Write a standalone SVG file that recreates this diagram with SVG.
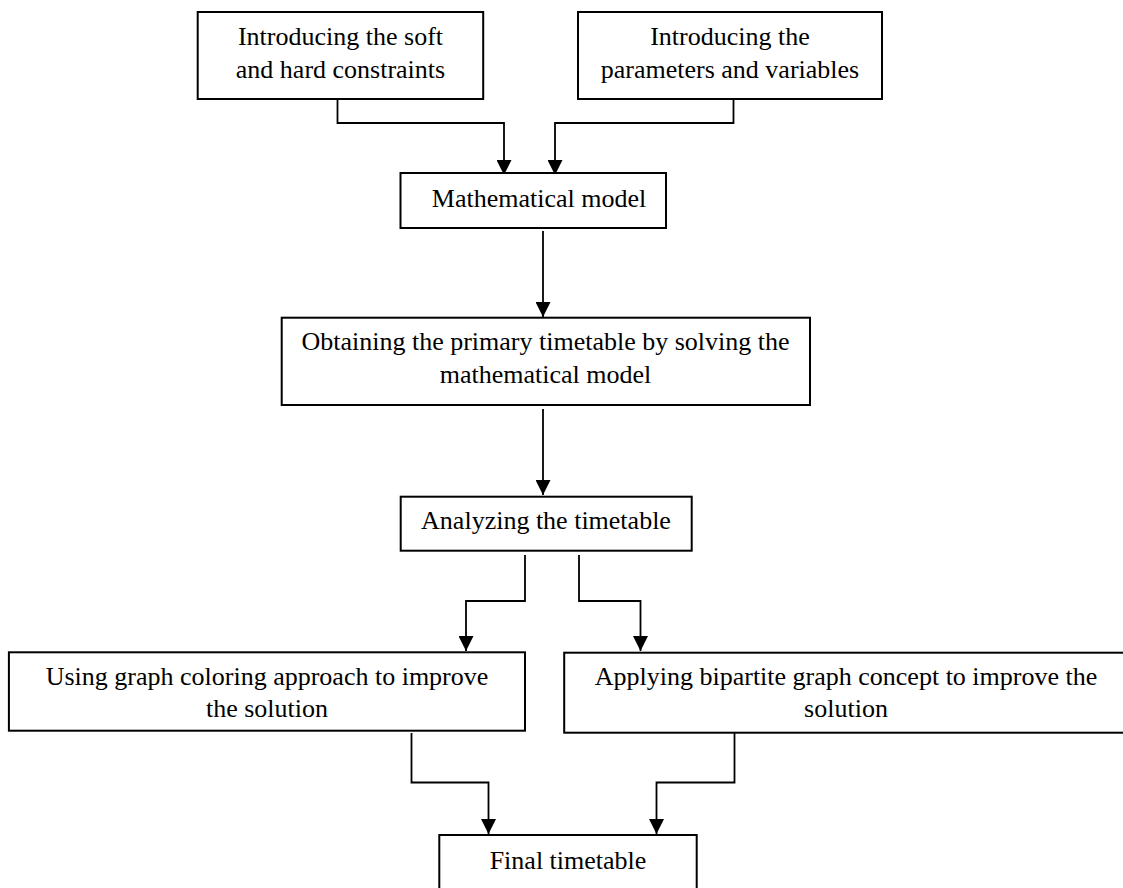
<svg xmlns="http://www.w3.org/2000/svg" width="1123" height="888" viewBox="0 0 1123 888">
<style>
.box{fill:#fff;stroke:#000;stroke-width:2}
.t{font-family:"Liberation Serif","Times New Roman",serif;font-size:26px;fill:#000;text-anchor:middle}
.c{fill:none;stroke:#000;stroke-width:1.8}
</style>
<defs>
<marker id="ah" markerWidth="15" markerHeight="15" refX="15" refY="7.5" orient="auto" markerUnits="userSpaceOnUse">
<path d="M0,0 L15,7.5 L0,15 Z" fill="#000"/>
</marker>
</defs>
<rect width="1123" height="888" fill="#fff"/>
<g id="connectors">
<polyline class="c" points="337.5,99 337.5,123 504,123 504,175" marker-end="url(#ah)"/>
<polyline class="c" points="733.5,99 733.5,123 555,123 555,175" marker-end="url(#ah)"/>
<polyline class="c" points="543,231 543,317" marker-end="url(#ah)"/>
<polyline class="c" points="543,409 543,495" marker-end="url(#ah)"/>
<polyline class="c" points="525,555 525,601 466,601 466,651" marker-end="url(#ah)"/>
<polyline class="c" points="579,555 579,601 640.5,601 640.5,651" marker-end="url(#ah)"/>
<polyline class="c" points="411.5,733 411.5,782.5 488.5,782.5 488.5,834" marker-end="url(#ah)"/>
<polyline class="c" points="734.5,733 734.5,782.5 656.5,782.5 656.5,834" marker-end="url(#ah)"/>
</g>
<g id="n1">
<rect class="box" x="197.7" y="12" width="285.5" height="87"/>
<text class="t" x="340.5" y="45">Introducing the soft</text>
<text class="t" x="340.5" y="78">and hard constraints</text>
</g>
<g id="n2">
<rect class="box" x="578" y="12" width="304" height="87"/>
<text class="t" x="730" y="45">Introducing the</text>
<text class="t" x="730" y="78">parameters and variables</text>
</g>
<g id="n3">
<rect class="box" x="400.5" y="173" width="265.5" height="55"/>
<text class="t" x="539" y="207">Mathematical model</text>
</g>
<g id="n4">
<rect class="box" x="281.7" y="317.7" width="528.3" height="87.3"/>
<text class="t" x="545.5" y="350">Obtaining the primary timetable by solving the</text>
<text class="t" x="545.5" y="382.5">mathematical model</text>
</g>
<g id="n5">
<rect class="box" x="400.7" y="496.7" width="291" height="54"/>
<text class="t" x="546" y="528.5">Analyzing the timetable</text>
</g>
<g id="n6">
<rect class="box" x="8.9" y="652.3" width="516.1" height="78.4"/>
<text class="t" x="267" y="685">Using graph coloring approach to improve</text>
<text class="t" x="267" y="716.7">the solution</text>
</g>
<g id="n7">
<rect class="box" x="564.2" y="652.7" width="562" height="80"/>
<text class="t" x="846" y="685">Applying bipartite graph concept to improve the</text>
<text class="t" x="846" y="716.7">solution</text>
</g>
<g id="n8">
<rect class="box" x="439.3" y="835" width="257.4" height="60"/>
<text class="t" x="568" y="869.3">Final timetable</text>
</g>
</svg>
